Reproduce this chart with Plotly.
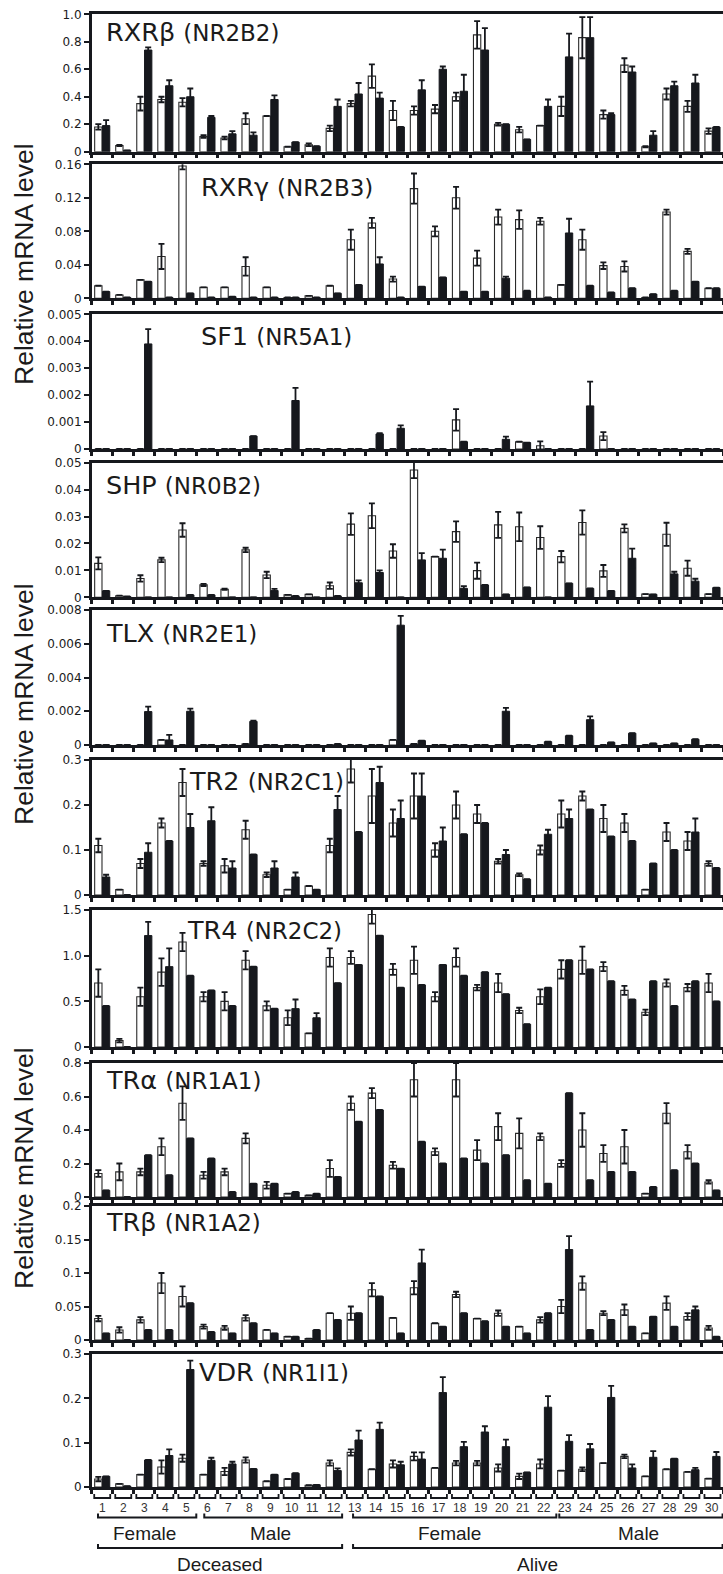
import plotly.graph_objects as go

W_PX, H_PX = 723, 1574
groups = list(range(1, 31))
sample_labels = [str(i) for i in groups]

# ---------------- data (white = open bars, black = filled bars) ----------------
rxrb_w = [0.18,0.045,0.35,0.38,0.36,0.11,0.10,0.24,0.26,0.036,0.05,0.17,0.35,0.55,0.30,0.30,0.31,0.40,0.85,0.20,0.16,0.19,0.33,0.83,0.27,0.63,0.036,0.42,0.33,0.15]
rxrb_we = [0.02,0.005,0.05,0.02,0.03,0.01,0.01,0.04,None,None,0.01,0.02,0.02,0.085,0.07,0.03,0.03,0.03,0.10,0.01,0.02,None,0.07,0.15,0.03,0.05,0.005,0.04,0.04,0.02]
rxrb_b = [0.19,0.01,0.74,0.48,0.40,0.25,0.13,0.12,0.38,0.07,0.04,0.33,0.42,0.39,0.18,0.45,0.60,0.44,0.74,0.20,0.09,0.33,0.69,0.83,0.27,0.58,0.12,0.48,0.50,0.18]
rxrb_be = [0.04,None,0.02,0.04,0.06,0.01,0.02,0.02,0.03,None,None,0.05,0.08,0.04,None,0.07,0.02,0.12,0.16,None,None,0.05,0.17,0.15,0.01,0.04,0.03,0.03,0.06,None]

rxrg_w = [0.015,0.004,0.022,0.05,0.158,0.013,0.013,0.038,0.013,0.001,0.003,0.015,0.07,0.09,0.023,0.131,0.080,0.12,0.048,0.097,0.094,0.092,0.016,0.07,0.039,0.038,0.001,0.103,0.056,0.012]
rxrg_we = [None,None,None,0.015,0.004,None,None,0.011,None,None,None,None,0.012,0.006,0.003,0.018,0.006,0.013,0.009,0.009,0.011,0.004,None,0.012,0.004,0.006,None,0.003,0.003,None]
rxrg_b = [0.008,0.001,0.02,0.001,0.006,0.001,0.002,0.001,0.001,0.001,0.001,0.006,0.016,0.041,0.001,0.014,0.025,0.008,0.008,0.024,0.009,0.001,0.078,0.015,0.007,0.012,0.005,0.009,0.02,0.012]
rxrg_be = [None,None,None,None,None,None,None,None,None,None,None,None,None,0.008,None,None,None,None,None,0.002,None,None,0.017,None,None,None,None,None,None,None]

sf1_w = [0,0,0,0,0,0,0,0,0,0,0,0,0,0,0,0,0,0.00108,0,0,0.00027,0.00012,0,0,0.00048,0,0,0,0,0]
sf1_we = [None]*17 + [0.0004,None,None,None,0.00016,None,None,0.00015,None,None,None,None,None]
sf1_b = [0,0,0.0039,0,0,0,0,0.00048,0,0.0018,0,0,0,0.00056,0.00077,0,0,0.00027,0,0.00036,0.00024,0,0,0.0016,0,0,0,0,0,0]
sf1_be = [None,None,0.00055,None,None,None,None,None,None,0.00047,None,None,None,0.00003,0.00011,None,None,None,None,0.0001,None,None,None,0.0009,None,None,None,None,None,None]

shp_w = [0.0126,0.0006,0.007,0.0139,0.025,0.0046,0.003,0.0176,0.0083,0.0009,0.0011,0.0043,0.0272,0.0303,0.0172,0.0473,0.0151,0.0244,0.0099,0.0269,0.0262,0.0222,0.0151,0.0278,0.0098,0.0256,0.0012,0.0234,0.0108,0.0012]
shp_we = [0.0022,None,0.0012,0.0008,0.0025,0.0004,0.0002,0.0008,0.0012,None,None,0.0012,0.004,0.0046,0.0025,0.003,None,0.0038,0.003,0.0048,0.0053,0.0042,0.0021,0.0045,0.0022,0.0015,None,0.0043,0.0028,None]
shp_b = [0.0024,0.0003,0,0,0.0009,0.0009,0,0,0.0025,0.0005,0,0.0005,0.0054,0.0092,0,0.0139,0.0145,0.0033,0.0046,0.0011,0.0037,0,0.0052,0.0033,0.0024,0.0145,0.0011,0.0087,0.006,0.0036]
shp_be = [None,None,None,None,None,None,None,None,0.0006,None,None,None,0.0009,0.0008,None,0.0025,0.0032,0.0008,None,None,None,None,None,None,None,0.0036,None,0.0008,0.0009,None]

tlx_w = [0,0,0,0.0003,0,0,0,0.00006,0,0,0,0,0,0,0.0003,0.00006,0,0,0,0,0,0,0,0,0,0,0,0,0,0]
tlx_we = [None]*30
tlx_b = [0,0,0.00198,0.0003,0.002,0,0,0.0014,0,0,0,0.00006,0,0,0.0071,0.00026,0,0,0,0.002,0,0.0002,0.00055,0.0015,0.00016,0.0007,0.0001,0.0001,0.00034,0]
tlx_be = [None,None,0.0003,0.0003,0.00015,None,None,0.00005,None,None,None,None,None,None,0.00055,None,None,None,None,0.0002,None,None,None,0.0002,None,None,None,None,None,None]

tr2_w = [0.11,0.012,0.07,0.16,0.25,0.07,0.065,0.145,0.045,0.012,0.02,0.11,0.28,0.22,0.16,0.22,0.10,0.20,0.18,0.075,0.045,0.10,0.18,0.22,0.17,0.16,0.012,0.14,0.12,0.07]
tr2_we = [0.015,None,0.01,0.01,0.03,0.005,0.015,0.02,0.005,None,None,0.015,0.03,0.06,0.03,0.05,0.015,0.03,0.02,0.005,0.003,0.01,0.03,0.01,0.03,0.02,None,0.02,0.02,0.005]
tr2_b = [0.04,0,0.095,0.12,0.15,0.165,0.06,0.09,0.06,0.04,0.012,0.19,0.14,0.25,0.17,0.22,0.12,0.135,0.16,0.09,0.035,0.135,0.17,0.19,0.13,0.12,0.07,0.10,0.14,0.06]
tr2_be = [0.005,None,0.02,None,0.03,0.03,0.015,None,0.015,0.01,None,0.03,None,0.035,0.04,0.05,0.03,None,None,0.01,None,0.01,0.02,None,None,None,None,None,0.03,None]

tr4_w = [0.70,0.07,0.55,0.82,1.15,0.55,0.50,0.95,0.45,0.32,0.15,0.98,0.98,1.45,0.85,0.95,0.55,0.98,0.65,0.70,0.40,0.55,0.85,0.95,0.88,0.62,0.38,0.70,0.65,0.70]
tr4_we = [0.15,0.02,0.10,0.15,0.10,0.05,0.10,0.10,0.05,0.08,None,0.10,0.07,0.10,0.06,0.15,0.05,0.10,0.03,0.10,0.03,0.08,0.10,0.15,0.05,0.05,0.03,0.04,0.04,0.10]
tr4_b = [0.45,0,1.22,0.88,0.78,0.62,0.45,0.88,0.42,0.42,0.32,0.70,0.90,1.22,0.65,0.68,0.90,0.78,0.82,0.58,0.25,0.65,0.95,0.85,0.72,0.52,0.72,0.45,0.72,0.50]
tr4_be = [None,None,0.15,0.20,None,None,None,None,None,0.10,0.05,None,None,None,None,None,None,None,None,None,None,None,None,None,None,None,None,None,None,None]

tra_w = [0.14,0.15,0.15,0.30,0.56,0.13,0.15,0.35,0.07,0.02,0.01,0.17,0.56,0.62,0.19,0.70,0.27,0.70,0.28,0.42,0.38,0.36,0.20,0.40,0.26,0.30,0.02,0.50,0.27,0.09]
tra_we = [0.02,0.05,0.02,0.05,0.10,0.02,0.02,0.03,0.02,None,None,0.05,0.04,0.03,0.02,0.10,0.02,0.10,0.06,0.08,0.09,0.02,0.02,0.10,0.05,0.10,None,0.06,0.04,0.01]
tra_b = [0.04,0,0.25,0.13,0.35,0.23,0.03,0.08,0.08,0.03,0.02,0.12,0.45,0.52,0.17,0.33,0.20,0.23,0.20,0.25,0.10,0.08,0.62,0.10,0.15,0.15,0.06,0.16,0.20,0.04]
tra_be = [None]*30

trb_w = [0.032,0.015,0.03,0.085,0.065,0.02,0.018,0.033,0.015,0.005,0.002,0.04,0.04,0.075,0.033,0.078,0.025,0.068,0.032,0.04,0.02,0.03,0.05,0.085,0.04,0.045,0.01,0.055,0.035,0.018]
trb_we = [0.004,0.004,0.004,0.015,0.015,0.003,0.003,0.004,None,None,None,None,0.01,0.01,None,0.01,None,0.004,None,0.004,None,0.004,0.01,0.01,0.003,0.008,None,0.01,0.005,0.003]
trb_b = [0.01,0,0.015,0.015,0.055,0.012,0.01,0.025,0.01,0.005,0.015,0.03,0.04,0.065,0.01,0.115,0.02,0.04,0.028,0.02,0.01,0.04,0.135,0.015,0.03,0.02,0.035,0.02,0.045,0.005]
trb_be = [None,None,None,None,None,None,None,None,None,None,None,None,None,None,None,0.02,None,None,None,None,None,None,0.02,None,None,None,None,None,0.005,None]

vdr_w = [0.018,0.007,0.028,0.045,0.065,0.028,0.035,0.061,0.013,0.018,0.004,0.054,0.078,0.04,0.052,0.069,0.043,0.054,0.054,0.043,0.024,0.052,0.037,0.04,0.054,0.069,0.024,0.04,0.034,0.019]
vdr_we = [0.005,None,None,0.015,0.008,None,0.008,0.006,None,None,None,0.006,0.007,None,0.008,0.009,None,0.005,0.005,0.008,0.006,0.01,None,0.004,None,0.004,None,None,None,None]
vdr_b = [0.024,0.002,0.061,0.071,0.265,0.06,0.052,0.041,0.028,0.031,0.005,0.037,0.106,0.13,0.05,0.063,0.213,0.091,0.124,0.091,0.033,0.18,0.103,0.086,0.202,0.043,0.067,0.064,0.039,0.069]
vdr_be = [None,None,None,0.014,0.02,0.006,0.005,None,None,None,None,0.005,0.021,0.015,0.007,0.015,0.035,0.011,0.013,0.016,None,0.025,0.014,0.011,0.026,0.008,0.014,None,0.004,0.01]

genes = ["RXRβ", "RXRγ", "SF1", "SHP", "TLX", "TR2", "TR4", "TRα", "TRβ", "VDR"]
nomen = ["(NR2B2)", "(NR2B3)", "(NR5A1)", "(NR0B2)", "(NR2E1)", "(NR2C1)", "(NR2C2)", "(NR1A1)", "(NR1A2)", "(NR1I1)"]
series = [
    (rxrb_w, rxrb_we, rxrb_b, rxrb_be),
    (rxrg_w, rxrg_we, rxrg_b, rxrg_be),
    (sf1_w, sf1_we, sf1_b, sf1_be),
    (shp_w, shp_we, shp_b, shp_be),
    (tlx_w, tlx_we, tlx_b, tlx_be),
    (tr2_w, tr2_we, tr2_b, tr2_be),
    (tr4_w, tr4_we, tr4_b, tr4_be),
    (tra_w, tra_we, tra_b, tra_be),
    (trb_w, trb_we, trb_b, trb_be),
    (vdr_w, vdr_we, vdr_b, vdr_be),
]
y_max = [1.0, 0.16, 0.005, 0.05, 0.008, 0.3, 1.5, 0.8, 0.2, 0.3]
y_ticks = [
    ([0, 0.2, 0.4, 0.6, 0.8, 1.0], ["0", "0.2", "0.4", "0.6", "0.8", "1.0"]),
    ([0, 0.04, 0.08, 0.12, 0.16], ["0", "0.04", "0.08", "0.12", "0.16"]),
    ([0, 0.001, 0.002, 0.003, 0.004, 0.005], ["0", "0.001", "0.002", "0.003", "0.004", "0.005"]),
    ([0, 0.01, 0.02, 0.03, 0.04, 0.05], ["0", "0.01", "0.02", "0.03", "0.04", "0.05"]),
    ([0, 0.002, 0.004, 0.006, 0.008], ["0", "0.002", "0.004", "0.006", "0.008"]),
    ([0, 0.1, 0.2, 0.3], ["0", "0.1", "0.2", "0.3"]),
    ([0, 0.5, 1.0, 1.5], ["0", "0.5", "1.0", "1.5"]),
    ([0, 0.2, 0.4, 0.6, 0.8], ["0", "0.2", "0.4", "0.6", "0.8"]),
    ([0, 0.05, 0.1, 0.15, 0.2], ["0", "0.05", "0.1", "0.15", "0.2"]),
    ([0, 0.1, 0.2, 0.3], ["0", "0.1", "0.2", "0.3"]),
]
sex_groups = [("Female", 1, 5), ("Male", 6, 12), ("Female", 13, 22), ("Male", 23, 30)]
status_groups = [("Deceased", 1, 12), ("Alive", 13, 30)]

# ---------------- layout geometry (pixels) ----------------
panel_px = [(14.3, 151.7), (164.3, 298.3), (314.3, 449), (462.7, 597.3), (610, 745),
            (760, 895), (910, 1047), (1063, 1197), (1206, 1340), (1354, 1487)]
title_px = [(104, 32), (199, 187), (199, 336), (104, 485), (104, 633),
            (187, 781), (185, 930), (104, 1080), (104, 1222), (197, 1372)]
X0 = 91.7

def py(p):
    return 1 - p / H_PX

INK = "#16181d"
FONT = "Liberation Sans, Arial, sans-serif"
WIDE = "DejaVu Sans, Verdana, sans-serif"
fig = go.Figure()
layout = dict(width=W_PX, height=H_PX, margin=dict(l=0, r=0, t=0, b=0, pad=0, autoexpand=False),
              paper_bgcolor="white", plot_bgcolor="white", showlegend=False,
              barmode="group", bargap=0.26, bargroupgap=0.06,
              font=dict(family=FONT, color="#1b1b1b"))
annotations, shapes = [], []

for k in range(10):
    sfx = "" if k == 0 else str(k + 1)
    xa, ya = "x" + sfx, "y" + sfx
    w, we, b, be = series[k]
    fig.add_trace(go.Bar(x=groups, y=w, xaxis=xa, yaxis=ya, offsetgroup="w",
                         marker=dict(color="white", line=dict(color="#2a2a2a", width=1.1)),
                         error_y=dict(type="data", array=we, symmetric=True, color=INK,
                                      thickness=1.8, width=3)))
    fig.add_trace(go.Bar(x=groups, y=b, xaxis=xa, yaxis=ya, offsetgroup="b",
                         marker=dict(color=INK, line=dict(color=INK, width=1)),
                         error_y=dict(type="data", array=be, symmetric=True, color=INK,
                                      thickness=1.8, width=3)))
    top, bot = panel_px[k]
    layout["xaxis" + sfx] = dict(domain=[X0 / W_PX, 1], anchor=ya, range=[0.5, 30.5],
                                 tickmode="array", tickvals=[g + 0.5 for g in range(0, 31)],
                                 showticklabels=False, ticks="outside", ticklen=4, tickwidth=2.5,
                                 tickcolor=INK, showline=True, linewidth=2.5, linecolor=INK,
                                 mirror=True, showgrid=False, zeroline=False, automargin=False)
    tv, tt = y_ticks[k]
    layout["yaxis" + sfx] = dict(domain=[py(bot), py(top)], anchor=xa, range=[0, y_max[k]],
                                 tickmode="array", tickvals=tv, ticktext=tt,
                                 ticks="outside", ticklen=5, tickwidth=2, tickcolor=INK,
                                 showline=True, linewidth=2.5, linecolor=INK,
                                 showgrid=False, zeroline=False, automargin=False,
                                 tickfont=dict(family=WIDE, size=12, color="#1b1b1b"))
    tx, ty = title_px[k]
    annotations.append(dict(xref="paper", yref="paper", x=tx / W_PX, y=py(ty),
                            xanchor="left", yanchor="middle", showarrow=False,
                            text=genes[k] + " <span style='font-size:23px'>" + nomen[k] + "</span>",
                            font=dict(family=WIDE, size=25.5, color="#1b1b1b")))

# y-axis titles
for yc in [264, 704, 1168]:
    annotations.append(dict(xref="paper", yref="paper", x=24 / W_PX, y=py(yc),
                            xanchor="center", yanchor="middle", showarrow=False,
                            textangle=-90, text="Relative mRNA level",
                            font=dict(size=26.5, color="#1b1b1b")))

# sample brackets + numbers under the last panel
xb = "x10"
for g, lab in zip(groups, sample_labels):
    shapes.append(dict(type="path", xref=xb, yref="paper",
                       path=f"M {g-0.38} {py(1494)} L {g-0.38} {py(1498)} L {g+0.38} {py(1498)} L {g+0.38} {py(1494)}",
                       line=dict(color=INK, width=1.8)))
    annotations.append(dict(xref=xb, yref="paper", x=g, y=py(1508), text=lab,
                            showarrow=False, xanchor="center", yanchor="middle",
                            font=dict(size=12, color="#333")))

def bracket(x0, x1, yline, yend):
    return dict(type="path", xref=xb, yref="paper",
                path=f"M {x0} {py(yend)} L {x0} {py(yline)} L {x1} {py(yline)} L {x1} {py(yend)}",
                line=dict(color=INK, width=2))

sex_extent = {0: (0.8, 5.47), 1: (5.85, 12.4), 2: (12.92, 22.58), 3: (22.72, 30.48)}
for i, (lab, g0, g1) in enumerate(sex_groups):
    x0, x1 = sex_extent[i]
    shapes.append(bracket(x0, x1, 1517.5, 1513.5))
    annotations.append(dict(xref=xb, yref="paper", x=(g0 + g1) / 2, y=py(1533), text=lab,
                            showarrow=False, xanchor="center", yanchor="middle",
                            font=dict(size=19, color="#1b1b1b")))
status_extent = {0: (0.8, 12.4), 1: (12.92, 30.48)}
for i, (lab, g0, g1) in enumerate(status_groups):
    x0, x1 = status_extent[i]
    shapes.append(bracket(x0, x1, 1548, 1544))
    annotations.append(dict(xref=xb, yref="paper", x=(x0 + x1) / 2, y=py(1564), text=lab,
                            showarrow=False, xanchor="center", yanchor="middle",
                            font=dict(size=19, color="#1b1b1b")))

layout["annotations"] = annotations
layout["shapes"] = shapes
fig.update_layout(**layout)
fig.write_html("out.html", config={"displayModeBar": False},
               post_script="document.body.style.margin='0';document.body.style.overflow='hidden';")
